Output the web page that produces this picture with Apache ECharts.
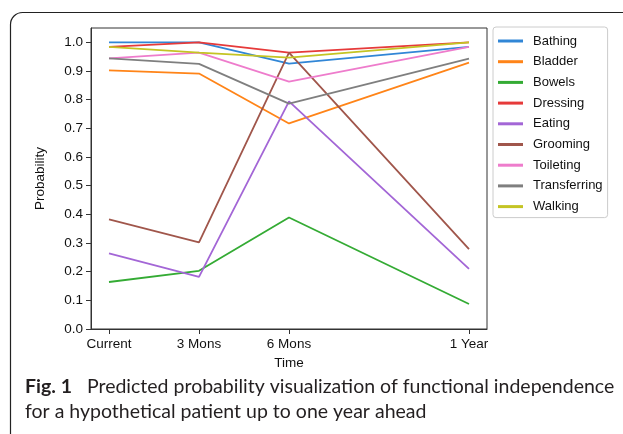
<!DOCTYPE html>
<html>
<head>
<meta charset="utf-8">
<script src="https://cdn.jsdelivr.net/npm/echarts@6/dist/echarts.min.js"></script>
<style>html,body{margin:0;padding:0;background:#fff;}#c{width:623px;height:434px;}</style>
</head>
<body>
<div id="c"></div>
<script>
// x positions in months and their tick labels
var months = [0, 3, 6, 12];
var timeLabels = ['Current', '3 Mons', '6 Mons', '1 Year'];
var yTicks = [0, 0.1, 0.2, 0.3, 0.4, 0.5, 0.6, 0.7, 0.8, 0.9, 1.0];

var names = ['Bathing','Bladder','Bowels','Dressing','Eating','Grooming','Toileting','Transferring','Walking'];
var bathing      = [1.000, 1.000, 0.926, 0.984];
var bladder      = [0.902, 0.891, 0.717, 0.929];
var bowels       = [0.164, 0.203, 0.389, 0.087];
var dressing     = [0.984, 1.000, 0.964, 1.000];
var eating       = [0.264, 0.182, 0.794, 0.210];
var grooming     = [0.382, 0.302, 0.964, 0.279];
var toileting    = [0.944, 0.964, 0.863, 0.984];
var transferring = [0.944, 0.925, 0.786, 0.943];
var walking      = [0.984, 0.964, 0.947, 1.000];
var colors = ['#3186d6','#ff8418','#34ab34','#e63a3a','#a366d6','#a0564b','#ee7ccc','#7f7f7f','#c4c424'];

var values = [bathing, bladder, bowels, dressing, eating, grooming, toileting, transferring, walking];

var font = 'Liberation Sans, Arial, sans-serif';
var series = names.map(function (n, i) {
  return {
    name: n,
    type: 'line',
    symbol: 'none',
    data: months.map(function (m, j) { return [m, values[i][j]]; }),
    lineStyle: { width: 1.8, color: colors[i] },
    itemStyle: { color: colors[i] },
    animation: false
  };
});

var chart = echarts.init(document.getElementById('c'), null, { renderer: 'canvas' });
chart.setOption({
  animation: false,
  backgroundColor: '#fff',
  grid: { left: 91, top: 28, right: 136, bottom: 105, show: true, borderColor: '#333', borderWidth: 1, backgroundColor: '#fff' },
  xAxis: {
    type: 'value', min: -0.6, max: 12.6,
    name: 'Time', nameLocation: 'middle', nameGap: 27,
    nameTextStyle: { fontFamily: font, fontSize: 13.5, color: '#111' },
    axisLine: { show: true, onZero: false, lineStyle: { color: '#333', width: 1 } },
    axisTick: { show: true, length: 5, customValues: months, lineStyle: { color: '#333' } },
    axisLabel: {
      customValues: months, margin: 8,
      fontFamily: font, fontSize: 13.5, color: '#111',
      formatter: function (v) { var k = months.indexOf(v); return k >= 0 ? timeLabels[k] : ''; }
    },
    splitLine: { show: false }
  },
  yAxis: {
    type: 'value', min: 0, max: 1.05,
    name: 'Probability', nameLocation: 'middle', nameGap: 44,
    nameTextStyle: { fontFamily: font, fontSize: 13.5, color: '#111' },
    axisLine: { show: true, onZero: false, lineStyle: { color: '#333', width: 1 } },
    axisTick: { show: true, length: 5, customValues: yTicks, lineStyle: { color: '#333' } },
    axisLabel: {
      customValues: yTicks, margin: 8,
      fontFamily: font, fontSize: 13.5, color: '#111',
      formatter: function (v) { return v.toFixed(1); }
    },
    splitLine: { show: false }
  },
  legend: {
    orient: 'vertical', left: 493, top: 27,
    padding: [7, 5, 4, 5],
    itemWidth: 25, itemHeight: 3, itemGap: 6.7,
    icon: 'rect',
    borderColor: '#ccc', borderWidth: 1, borderRadius: 3,
    backgroundColor: '#fff',
    textStyle: { fontFamily: font, fontSize: 13, color: '#111', lineHeight: 14, padding: [0, 0, 0, 5] },
    data: names
  },
  graphic: [
    {
      type: 'rect', silent: true, z: 100,
      shape: { x: 10.5, y: 12.5, width: 720, height: 520, r: 12 },
      style: { fill: 'none', stroke: '#222', lineWidth: 1.2 }
    },
    {
      type: 'text', left: 25, top: 377, z: 100,
      style: {
        text: '{b|Fig. 1}   {n|Predicted probability visualization of functional independence}',
        fontFamily: 'Lato, sans-serif', fontSize: 19.5, fill: '#231f20',
        rich: {
          b: { fontWeight: 'bold', fontFamily: 'Lato, sans-serif', fontSize: 19.5, fill: '#231f20' },
          n: { fontFamily: 'Lato, sans-serif', fontSize: 19.5, fill: '#231f20' }
        }
      }
    },
    {
      type: 'text', left: 25, top: 402, z: 100,
      style: { text: 'for a hypothetical patient up to one year ahead', fontFamily: 'Lato, sans-serif', fontSize: 19.5, fill: '#231f20' }
    }
  ],
  series: series
});
</script>
</body>
</html>
